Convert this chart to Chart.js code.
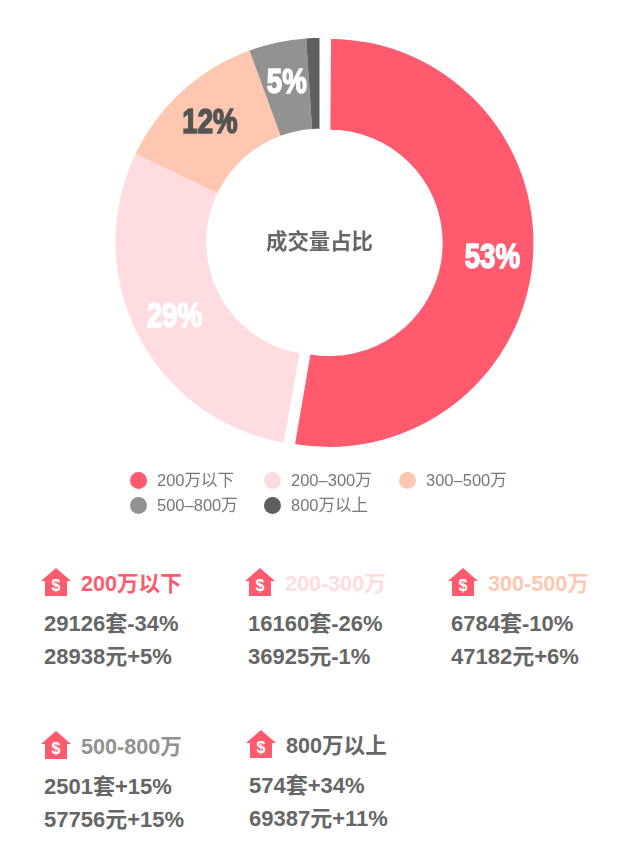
<!DOCTYPE html>
<html>
<head>
<meta charset="utf-8">
<script src="https://cdn.jsdelivr.net/npm/chart.js@4/dist/chart.umd.min.js"></script>
<style>
  html, body { margin: 0; padding: 0; background: #fff; }
  body { width: 641px; height: 857px; position: relative; overflow: hidden;
         font-family: "Liberation Sans", "Noto Sans CJK SC", sans-serif; }
  #wrap { position: absolute; left: -1px; top: 0; width: 641px; height: 484px; }
  .lg { position: absolute; font-size: 16.5px; color: #777; line-height: 20px; white-space: nowrap; }
  .lg i { position: absolute; left: -27px; top: 1.5px; width: 17px; height: 17px; border-radius: 50%; }
  .block { position: absolute; white-space: nowrap; }
  .block svg { position: absolute; left: -3px; top: 0; width: 30px; height: 30px; }
  .block .t { position: absolute; left: 37px; top: 5px; font-size: 21.6px; line-height: 24px; font-weight: bold; }
  .block .l { position: absolute; left: 0; font-size: 22px; line-height: 26px; font-weight: bold; color: #666; }
</style>
</head>
<body>
<div id="wrap"><canvas id="donut" width="641" height="484"></canvas></div>
<div id="legend"></div>
<div id="blocks"></div>
<script>
const categories = ['200万以下', '200-300万', '300-500万', '500-800万', '800万以上'];
const legendNames = ['200万以下', '200–300万', '300–500万', '500–800万', '800万以上'];
const deals = [29126, 16160, 6784, 2501, 574];
const dealChange = ['-34%', '-26%', '-10%', '+15%', '+34%'];
const prices = [28938, 36925, 47182, 57756, 69387];
const priceChange = ['+5%', '-1%', '+6%', '+15%', '+11%'];
const shareLabels = ['53%', '29%', '12%', '5%', ''];
const colors = ['#ff5a6e', '#ffdcdf', '#ffc7af', '#929292', '#5f5f5f'];
const labelColors = ['#fff', '#fff', '#555', '#fff', '#fff'];

const legendPos = [[157, 470], [291, 470], [426, 470], [157, 495], [291, 495]];
const blockPos = [[44, 567], [248, 567], [451, 567], [44, 730], [249, 729]];
const titleColors = ['#ff5a6e', '#ffdcdf', '#ffc7af', '#929292', '#666'];
const labelNudge = [[-5, 1], [-4, 3], [-3, -1], [0, -3], [0, 0]];

// legend
document.getElementById('legend').innerHTML = legendNames.map((n, i) => `
  <div class="lg" style="left:${legendPos[i][0]}px;top:${legendPos[i][1]}px"><i style="background:${colors[i]}"></i>${n}</div>`).join('');

// stat blocks under the chart
const house = `<svg viewBox="0 0 30 30"><path d="M15 1 L30 14 L26 14 L26 29 L4 29 L4 14 L0 14 Z" fill="#ff5a6e"/>
  <text x="15" y="24" text-anchor="middle" font-size="16" font-weight="bold" fill="#fff" font-family="Liberation Sans">$</text></svg>`;
document.getElementById('blocks').innerHTML = categories.map((c, i) => `
  <div class="block" style="left:${blockPos[i][0]}px;top:${blockPos[i][1]}px">
    ${house}
    <div class="t" style="color:${titleColors[i]}">${c}</div>
    <div class="l" style="top:44px">${deals[i]}套${dealChange[i]}</div>
    <div class="l" style="top:77px">${prices[i]}元${priceChange[i]}</div>
  </div>`).join('');

const sliceOffset = [40, 0, 0, 0, 0];  // chart.js moves a slice by offset/4

// chart.js also grows an offset slice over 180deg, take that back
const keepRadius = {
  id: 'keepRadius',
  afterDatasetsUpdate(chart) {
    chart.getDatasetMeta(0).data.forEach((arc, i) => {
      arc.outerRadius -= sliceOffset[i] / 4;
      arc.innerRadius -= sliceOffset[i] / 4;
    });
  }
};

const sliceText = {
  id: 'sliceText',
  afterDatasetsDraw(chart) {
    const ctx = chart.ctx;
    ctx.save();
    ctx.textAlign = 'center';
    ctx.textBaseline = 'middle';
    chart.getDatasetMeta(0).data.forEach((arc, i) => {
      if (!shareLabels[i]) return;
      const p = arc.getCenterPoint();
      const mid = (arc.startAngle + arc.endAngle) / 2;
      const x = p.x + Math.cos(mid) * sliceOffset[i] / 4 + labelNudge[i][0];
      const y = p.y + Math.sin(mid) * sliceOffset[i] / 4 + labelNudge[i][1];
      // no Impact here, squeeze a heavy sans instead
      ctx.save();
      ctx.translate(x, y);
      ctx.scale(0.79, 1);
      ctx.font = 'bold 35px "Liberation Sans"';
      ctx.fillStyle = labelColors[i];
      ctx.strokeStyle = labelColors[i];
      ctx.lineWidth = 1.6;
      ctx.strokeText(shareLabels[i], 0, 0);
      ctx.fillText(shareLabels[i], 0, 0);
      ctx.restore();
    });
    const c = chart.getDatasetMeta(0).data[1];
    ctx.font = 'bold 21.4px "Noto Sans CJK SC"';
    ctx.fillStyle = '#666';
    ctx.fillText('成交量占比', c.x, c.y - 1);
    ctx.restore();
  }
};

new Chart(document.getElementById('donut'), {
  type: 'doughnut',
  data: {
    labels: categories,
    datasets: [{ data: deals, backgroundColor: colors, borderWidth: 0, offset: sliceOffset }]
  },
  options: {
    responsive: false,
    animation: false,
    radius: 204,
    cutout: '55.5%',
    layout: { padding: 0 },
    plugins: { legend: { display: false }, tooltip: { enabled: false } }
  },
  plugins: [keepRadius, sliceText]
});
</script>
</body>
</html>
